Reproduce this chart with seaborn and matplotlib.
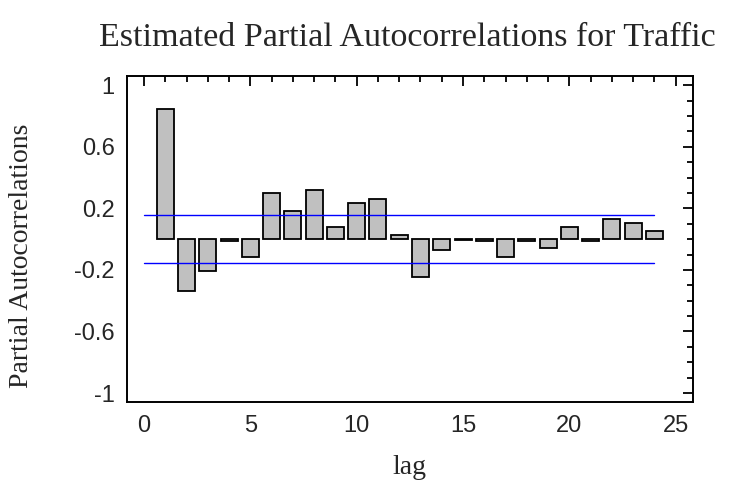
import numpy as np
import matplotlib
matplotlib.use("Agg")
import matplotlib.pyplot as plt
import seaborn as sns
from matplotlib.ticker import MultipleLocator

# Partial autocorrelations
lags = list(range(1, 25))
pacf = [0.848, -0.335, -0.206, -0.013, -0.119, 0.300, 0.182, 0.320,
        0.082, 0.232, 0.262, 0.024, -0.247, -0.069, -0.003, -0.015,
        -0.119, -0.015, -0.058, 0.082, -0.015, 0.132, 0.102, 0.052]

# 95% probability limits
limit = 0.155
limit_lags = [0, 24]

y_ticks = [-1, -0.6, -0.2, 0.2, 0.6, 1]
y_tick_labels = ["-1", "-0.6", "-0.2", "0.2", "0.6", "1"]
x_ticks = [0, 5, 10, 15, 20, 25]


def main():
    sns.set_style("white")
    fig = plt.figure(figsize=(7.32, 4.82), dpi=100)
    ax = fig.add_axes([0.1735, 0.1654, 0.7728, 0.6769])

    sns.barplot(x=lags, y=pacf, native_scale=True, width=0.8,
                color="#c0c0c0", saturation=1, edgecolor="black",
                linewidth=1.3, ax=ax, zorder=2)

    ax.plot(limit_lags, [limit, limit], color="#0000ff", lw=1.0, zorder=3)
    ax.plot(limit_lags, [-limit, -limit], color="#0000ff", lw=1.0, zorder=3)

    ax.set_xlim(-0.8, 25.8)
    ax.set_ylim(-1.06, 1.06)
    ax.set_xticks(x_ticks)
    ax.set_xticklabels([str(t) for t in x_ticks])
    ax.set_yticks(y_ticks)
    ax.set_yticklabels(y_tick_labels)
    ax.xaxis.set_minor_locator(MultipleLocator(1))
    ax.yaxis.set_minor_locator(MultipleLocator(0.1))

    for side in ["left", "right", "top", "bottom"]:
        ax.spines[side].set_visible(True)
        ax.spines[side].set_color("black")
        ax.spines[side].set_linewidth(1.4)

    ax.tick_params(which="both", direction="in", top=True, right=True,
                   color="black", width=1.3)
    ax.tick_params(which="major", length=7, labelsize=17, pad=9)
    ax.tick_params(which="minor", length=4)
    for lab in ax.get_xticklabels() + ax.get_yticklabels():
        lab.set_family(["Liberation Sans", "DejaVu Sans"])

    serif = ["Liberation Serif", "DejaVu Serif"]
    ax.set_xlabel("lag", fontsize=20, family=serif)
    ax.set_ylabel("Partial Autocorrelations", fontsize=20, family=serif)
    ax.xaxis.set_label_coords(0.5, -0.2)
    ax.yaxis.set_label_coords(-0.186, 0.45)
    ax.xaxis.label.set_va("center")
    ax.yaxis.label.set_va("center")
    fig.text(0.557, 0.922, "Estimated Partial Autocorrelations for Traffic",
             ha="center", va="center", fontsize=24.5, family=serif)

    fig.savefig("out.png", dpi=100)


if __name__ == "__main__":
    main()
